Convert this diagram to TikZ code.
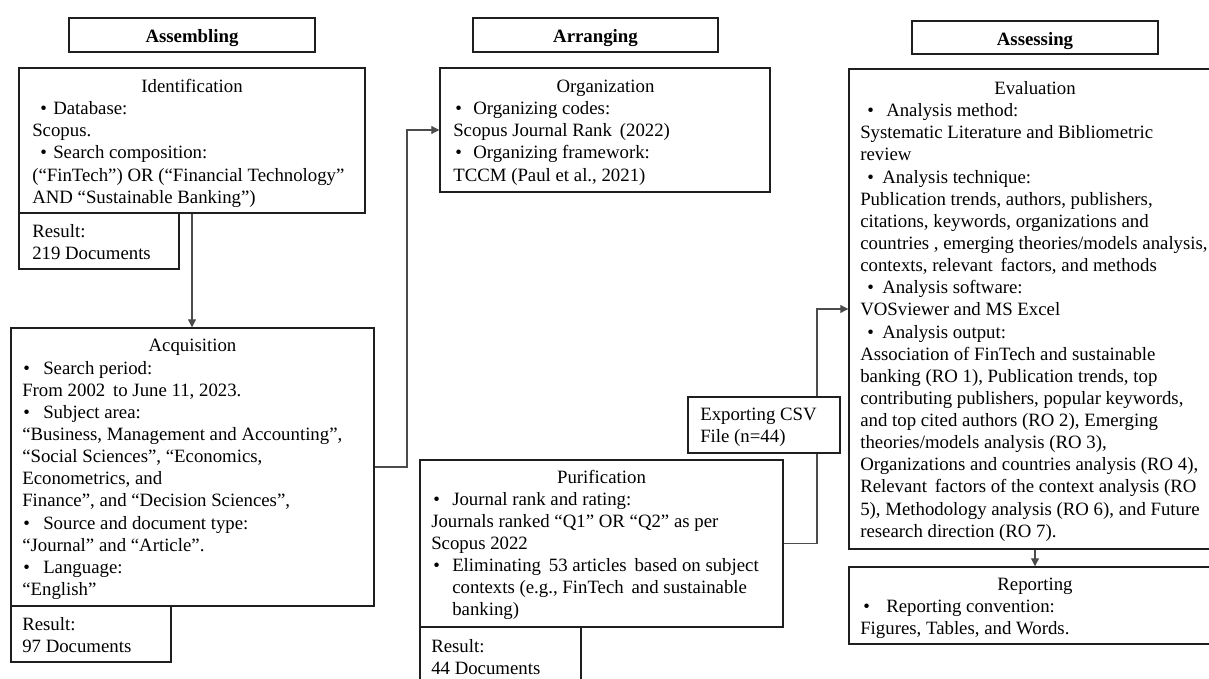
\documentclass[tikz,border=0pt]{standalone}
\usepackage{fontspec}
\setmainfont{Liberation Serif}
\usetikzlibrary{fit,arrows.meta}
\newlength\pxu \setlength\pxu{0.75pt}
\newcommand\bl[3]{\makebox[#2\pxu][l]{\hspace*{#1\pxu}\textbullet}#3}
\begin{document}
\begin{tikzpicture}[x=0.75pt,y=-0.75pt,
  box/.style={draw=black!88,line width=1.1pt,fill=white,inner sep=0pt},
  conn/.style={draw=black!70,line width=0.8pt},
  arr/.style={conn,-{Triangle[length=6pt,width=6pt]}},
  txt/.style={inner sep=0pt,align=left,anchor=north west,font=\fontsize{14.1}{16.6}\selectfont},
  head/.style={inner sep=0pt,anchor=base,font=\fontsize{14.1}{16.6}\selectfont},
  hdr/.style={inner sep=0pt,anchor=base,font=\fontsize{14.1}{16.6}\selectfont\bfseries}]
\clip (0,0) rectangle (1209,678);
% column headers
\node[box,fit={(69,18) (315,52)}] (asmb) {};
\node[box,fit={(473,18) (718,52)}] (arrg) {};
\node[box,fit={(912,21) (1158,54)}] (asss) {};
% main boxes
\node[box,fit={(19,68) (365,213)}] (ident) {};
\node[box,fit={(19,213) (179,269)}] (res1) {};
\node[box,fit={(11,328) (374,606)}] (acq) {};
\node[box,fit={(11,606) (171,662)}] (res2) {};
\node[box,fit={(440,68) (770,192)}] (org) {};
\node[box,fit={(420,460) (783,627)}] (pur) {};
\node[box,fit={(420,627) (581,700)}] (res3) {};
\node[box,fit={(849,69) (1221,549)}] (eval) {};
\node[box,fit={(849,567) (1221,644)}] (rep) {};
% connectors
\coordinate (b1) at (407,0);
\coordinate (b2) at (817,0);
\draw[arr] (ident.south) -- (ident.south |- acq.north);
\draw[arr] (acq.east) -- (acq.east -| b1) |- (org.west);
\draw[arr] (pur.east) -- (pur.east -| b2) |- (eval.west);
\draw[arr] (eval.south) -- (rep.north);
\node[box,fit={(688,397) (840,453)}] (csv) {};
% header texts
\node[hdr] (asmbt) at (192,42) {Assembling};
\node[hdr] (arrgt) at (595.5,42) {Arranging};
\node[hdr] (assst) at (1035,45) {Assessing};
% Identification
\node[head] (identh) at (192,92.3) {Identification};
\node[txt] (identt) at (32,98.9) {\strut\bl{8}{21}{Database:}\\
Scopus.\\
\bl{8}{21}{Search composition:}\\
(“FinTech”) OR (“Financial Technology”\\
AND “Sustainable Banking”)};
\node[txt] (res1t) at (32,221.5) {\strut Result:\\ 219 Documents};
% Acquisition
\node[head] (acqh) at (192.5,351.7) {Acquisition};
\node[txt] (acqt) at (22,358.3) {\strut\bl{1}{21}{Search period:}\\
From 2002\, to June 11, 2023.\\
\bl{1}{21}{Subject area:}\\
“Business, Management and Accounting”,\\
“Social Sciences”, “Economics,\\
Econometrics, and\\
Finance”, and “Decision Sciences”,\\
\bl{1}{21}{Source and document type:}\\
“Journal” and “Article”.\\
\bl{1}{21}{Language:}\\
“English”};
\node[txt] (res2t) at (22,614.5) {\strut Result:\\ 97 Documents};
% Organization
\node[head] (orgh) at (605.5,92.3) {Organization};
\node[txt] (orgt) at (453,98.9) {\strut\bl{2}{20}{Organizing codes:}\\
Scopus Journal Rank\, (2022)\\
\bl{2}{20}{Organizing framework:}\\
TCCM (Paul et al., 2021)};
% Purification
\node[head] (purh) at (601.5,483.3) {Purification};
\node[txt] (purt) at (431,489.5) {\strut\bl{2}{21}{Journal rank and rating:}\\
Journals ranked “Q1” OR “Q2” as per\\
Scopus 2022\\
\bl{2}{21}{Eliminating\, 53 articles\, based on subject}\\
\hspace*{21\pxu}contexts (e.g., FinTech\, and sustainable\\
\hspace*{21\pxu}banking)};
\node[txt] (res3t) at (431,636.5) {\strut Result:\\ 44 Documents};
% CSV
\node[txt] (csvt) at (700,404.5) {\strut Exporting CSV\\ File (n=44)};
% Evaluation
\node[head] (evalh) at (1035,94.3) {Evaluation};
\node[txt] (evalt) at (860,100.9) {\strut\bl{7}{26}{Analysis method:}\\
Systematic Literature and Bibliometric\\
review\\
\bl{7}{22}{Analysis technique:}\\
Publication trends, authors, publishers,\\
citations, keywords, organizations and\\
countries , emerging theories/models analysis,\\
contexts, relevant\, factors, and methods\\
\bl{7}{22}{Analysis software:}\\
VOSviewer and MS Excel\\
\bl{7}{22}{Analysis output:}\\
Association of FinTech and sustainable\\
banking (RO 1), Publication trends, top\\
contributing publishers, popular keywords,\\
and top cited authors (RO 2), Emerging\\
theories/models analysis (RO 3),\\
Organizations and countries analysis (RO 4),\\
Relevant\, factors of the context analysis (RO\\
5), Methodology analysis (RO 6), and Future\\
research direction (RO 7).};
% Reporting
\node[head] (reph) at (1035,590) {Reporting};
\node[txt] (rept) at (860,596.5) {\strut\bl{3}{26}{Reporting convention:}\\
Figures, Tables, and Words.};
\end{tikzpicture}
\end{document}
